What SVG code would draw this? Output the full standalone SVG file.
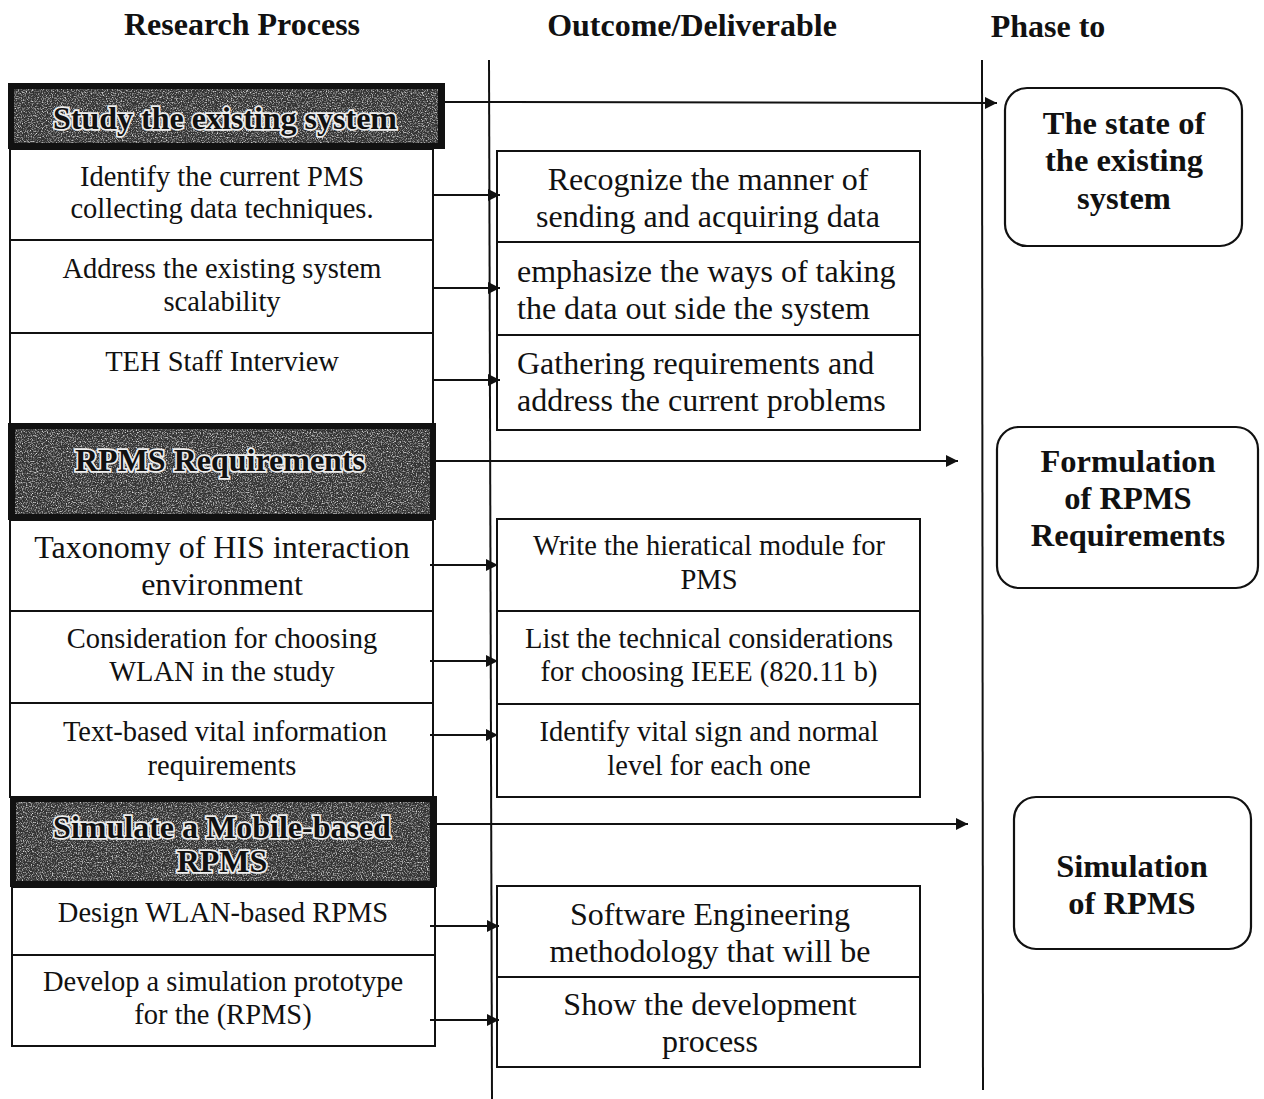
<svg xmlns="http://www.w3.org/2000/svg" width="1264" height="1099" viewBox="0 0 1264 1099">
  <style>
    .col { font-family: "Liberation Serif", "Times New Roman", serif; font-weight: bold; font-size: 32px; fill: #111; text-anchor: middle; }
    .cell { fill: #fff; stroke: #111; stroke-width: 2; }
    .t { font-family: "Liberation Serif", "Times New Roman", serif; font-size: 28.5px; fill: #111; text-anchor: middle; }
    .tl { font-size: 32px; }
    .left { text-anchor: start; }
    .hdr-frame { fill: #111; }
    .hdr-fill { fill: #333; }
    .hdr-text { font-family: "Liberation Serif", "Times New Roman", serif; font-weight: bold; font-size: 32px; fill: #111; stroke: #eee; stroke-width: 3.5; paint-order: stroke; text-anchor: middle; }
    .phase { fill: #fff; stroke: #111; stroke-width: 2.2; }
    .pt { font-family: "Liberation Serif", "Times New Roman", serif; font-weight: bold; font-size: 32.5px; fill: #111; text-anchor: middle; }
    .line { stroke: #111; stroke-width: 2; fill: none; }
    .arrow { stroke: #111; stroke-width: 2; fill: none; marker-end: url(#head); }
  </style>
  <defs>
    <marker id="head" viewBox="0 0 10 10" refX="10" refY="5" markerWidth="12" markerHeight="12" markerUnits="userSpaceOnUse" orient="auto">
      <path d="M0,0 L10,5 L0,10 Z" fill="#111"/>
    </marker>
    <!-- speckled halftone texture for the phase title bars -->
    <filter id="grain" x="0" y="0" width="100%" height="100%">
      <feTurbulence type="fractalNoise" baseFrequency="0.8" numOctaves="2" seed="7" result="noise"/>
      <feColorMatrix in="noise" type="matrix" values="0 0 0 0 0.8  0 0 0 0 0.8  0 0 0 0 0.8  2.6 0 0 0 -1.2" result="speck"/>
      <feComposite in="speck" in2="SourceGraphic" operator="in"/>
    </filter>
  </defs>

  <rect width="1264" height="1099" fill="#fff"/>

  <!-- column titles -->
  <g id="column-titles">
    <text class="col" x="242" y="35">Research Process</text>
    <text class="col" x="692" y="36">Outcome/Deliverable</text>
    <text class="col" x="1048" y="37">Phase to</text>
  </g>

  <!-- column separators -->
  <g id="separators">
    <line class="line" x1="489" y1="60" x2="492" y2="1099"/>
    <line class="line" x1="982" y1="60" x2="983" y2="1090"/>
  </g>

  <!-- research process: phase 1 -->
  <g id="hdr-study">
    <rect class="hdr-frame" x="8" y="83" width="437" height="66"/>
    <rect class="hdr-fill" x="14" y="89" width="424" height="54"/>
    <rect x="14" y="89" width="424" height="54" fill="#000" filter="url(#grain)"/>
    <text class="hdr-text" x="225" y="129">Study the existing system</text>
  </g>
  <g id="rp-identify">
    <rect class="cell" x="10" y="149" width="423" height="91"/>
    <text class="t" x="222" y="186">Identify the current  PMS</text>
    <text class="t" x="222" y="218">collecting data techniques.</text>
  </g>
  <g id="rp-address">
    <rect class="cell" x="10" y="240" width="423" height="93"/>
    <text class="t" x="222" y="278">Address the existing system</text>
    <text class="t" x="222" y="311">scalability</text>
  </g>
  <g id="rp-teh">
    <rect class="cell" x="10" y="333" width="423" height="92"/>
    <text class="t" x="222" y="371">TEH Staff Interview</text>
  </g>

  <!-- research process: phase 2 -->
  <g id="hdr-requirements">
    <rect class="hdr-frame" x="8" y="423" width="428" height="97"/>
    <rect class="hdr-fill" x="15" y="429" width="415" height="85"/>
    <rect x="15" y="429" width="415" height="85" fill="#000" filter="url(#grain)"/>
    <text class="hdr-text" x="220" y="471">RPMS Requirements</text>
  </g>
  <g id="rp-taxonomy">
    <rect class="cell" x="10" y="520" width="423" height="91"/>
    <text class="t tl" x="222" y="558">Taxonomy of HIS interaction</text>
    <text class="t tl" x="222" y="595">environment</text>
  </g>
  <g id="rp-wlan">
    <rect class="cell" x="10" y="611" width="423" height="92"/>
    <text class="t" x="222" y="648">Consideration for choosing</text>
    <text class="t" x="222" y="681">WLAN in the study</text>
  </g>
  <g id="rp-textbased">
    <rect class="cell" x="10" y="703" width="423" height="94"/>
    <text class="t" x="225" y="741">Text-based vital information</text>
    <text class="t" x="222" y="775">requirements</text>
  </g>

  <!-- research process: phase 3 -->
  <g id="hdr-simulate">
    <rect class="hdr-frame" x="10" y="796" width="427" height="91"/>
    <rect class="hdr-fill" x="16" y="802" width="414" height="79"/>
    <rect x="16" y="802" width="414" height="79" fill="#000" filter="url(#grain)"/>
    <text class="hdr-text" x="222" y="838">Simulate a Mobile-based</text>
    <text class="hdr-text" x="222" y="872">RPMS</text>
  </g>
  <g id="rp-design">
    <rect class="cell" x="12" y="887" width="423" height="68"/>
    <text class="t" x="223" y="922">Design WLAN-based RPMS</text>
  </g>
  <g id="rp-develop">
    <rect class="cell" x="12" y="955" width="423" height="91"/>
    <text class="t" x="223" y="991">Develop a simulation prototype</text>
    <text class="t" x="223" y="1024">for the (RPMS)</text>
  </g>

  <!-- outcomes / deliverables -->
  <g id="out-recognize">
    <rect class="cell" x="497" y="151" width="423" height="91"/>
    <text class="t tl" x="708" y="190">Recognize the manner of</text>
    <text class="t tl" x="708" y="227">sending and acquiring data</text>
  </g>
  <g id="out-emphasize">
    <rect class="cell" x="497" y="242" width="423" height="93"/>
    <text class="t tl left" x="517" y="282">emphasize the ways of taking</text>
    <text class="t tl left" x="517" y="319">the data out side the system</text>
  </g>
  <g id="out-gathering">
    <rect class="cell" x="497" y="335" width="423" height="95"/>
    <text class="t tl left" x="517" y="374">Gathering requirements and</text>
    <text class="t tl left" x="517" y="411">address the current problems</text>
  </g>
  <g id="out-hierarchical">
    <rect class="cell" x="497" y="519" width="423" height="92"/>
    <text class="t" x="709" y="555">Write the hieratical module for</text>
    <text class="t" x="709" y="589">PMS</text>
  </g>
  <g id="out-technical">
    <rect class="cell" x="497" y="611" width="423" height="93"/>
    <text class="t" x="709" y="648">List the technical considerations</text>
    <text class="t" x="709" y="681">for choosing IEEE (820.11 b)</text>
  </g>
  <g id="out-vital">
    <rect class="cell" x="497" y="704" width="423" height="93"/>
    <text class="t" x="709" y="741">Identify vital sign and  normal</text>
    <text class="t" x="709" y="775">level for each one</text>
  </g>
  <g id="out-software">
    <rect class="cell" x="497" y="886" width="423" height="91"/>
    <text class="t tl" x="710" y="925">Software Engineering</text>
    <text class="t tl" x="710" y="962">methodology that will be</text>
  </g>
  <g id="out-development">
    <rect class="cell" x="497" y="977" width="423" height="90"/>
    <text class="t tl" x="710" y="1015">Show the development</text>
    <text class="t tl" x="710" y="1052">process</text>
  </g>

  <!-- phases -->
  <g id="phase-existing">
    <rect class="phase" x="1005" y="88" width="237" height="158" rx="22"/>
    <text class="pt" x="1124" y="134">The state of</text>
    <text class="pt" x="1124" y="171">the existing</text>
    <text class="pt" x="1124" y="209">system</text>
  </g>
  <g id="phase-requirements">
    <rect class="phase" x="997" y="427" width="261" height="161" rx="22"/>
    <text class="pt" x="1128" y="472">Formulation</text>
    <text class="pt" x="1128" y="509">of RPMS</text>
    <text class="pt" x="1128" y="546">Requirements</text>
  </g>
  <g id="phase-simulation">
    <rect class="phase" x="1014" y="797" width="237" height="152" rx="22"/>
    <text class="pt" x="1132" y="877">Simulation</text>
    <text class="pt" x="1132" y="914">of RPMS</text>
  </g>

  <!-- connectors -->
  <g id="connectors">
    <line class="arrow" x1="445" y1="102" x2="997" y2="103"/>
    <line class="arrow" x1="433" y1="195" x2="500" y2="195"/>
    <line class="arrow" x1="433" y1="288" x2="500" y2="288"/>
    <line class="arrow" x1="433" y1="380" x2="500" y2="380"/>
    <line class="arrow" x1="436" y1="461" x2="958" y2="461"/>
    <line class="arrow" x1="430" y1="565" x2="498" y2="565"/>
    <line class="arrow" x1="430" y1="661" x2="498" y2="661"/>
    <line class="arrow" x1="430" y1="735" x2="498" y2="735"/>
    <line class="arrow" x1="437" y1="824" x2="968" y2="824"/>
    <line class="arrow" x1="430" y1="926" x2="499" y2="926"/>
    <line class="arrow" x1="430" y1="1020" x2="499" y2="1020"/>
  </g>
</svg>
